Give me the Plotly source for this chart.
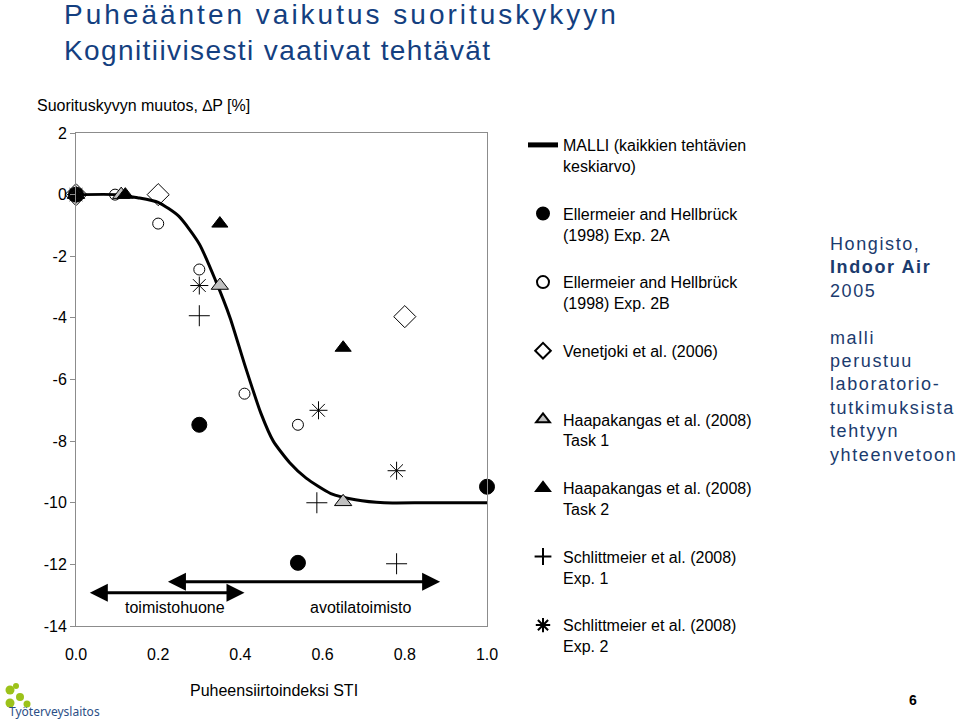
import plotly.graph_objects as go

# ---------------- data ----------------
model_x = [0.0, 0.10, 0.15, 0.20, 0.25, 0.30, 0.34, 0.375, 0.41, 0.45, 0.48, 0.52, 0.56, 0.62, 0.68, 0.75, 0.85, 1.0]
model_y = [0.0, 0.0, -0.1, -0.25, -0.7, -1.6, -2.8, -4.0, -5.5, -7.1, -8.0, -8.7, -9.2, -9.7, -9.9, -10.0, -10.0, -10.0]

ell2a_x = [0.0, 0.30, 0.54, 1.0]
ell2a_y = [0.0, -7.47, -11.95, -9.48]

ell2b_x = [0.0, 0.095, 0.20, 0.30, 0.41, 0.54]
ell2b_y = [0.0, 0.0, -0.94, -2.43, -6.46, -7.47]

ven_x = [0.0, 0.20, 0.80]
ven_y = [0.0, 0.0, -3.96]

haap1_x = [0.0, 0.11, 0.35, 0.65]
haap1_y = [0.0, 0.0, -2.95, -9.97]

haap2_x = [0.0, 0.12, 0.35, 0.65]
haap2_y = [0.0, 0.0, -0.94, -4.97]

sch1_x = [0.30, 0.586, 0.78]
sch1_y = [-3.93, -10.0, -11.98]

sch2_x = [0.0, 0.30, 0.59, 0.78]
sch2_y = [0.0, -2.95, -7.0, -8.96]

x_ticks = [0.0, 0.2, 0.4, 0.6, 0.8, 1.0]
y_ticks = [2, 0, -2, -4, -6, -8, -10, -12, -14]

names = [
    "MALLI (kaikkien tehtävien<br>keskiarvo)",
    "Ellermeier and Hellbrück<br>(1998) Exp. 2A",
    "Ellermeier and Hellbrück<br>(1998) Exp. 2B",
    "Venetjoki et al. (2006)<br> ",
    "Haapakangas et al. (2008)<br>Task 1",
    "Haapakangas et al. (2008)<br>Task 2",
    "Schlittmeier et al. (2008)<br>Exp. 1",
    "Schlittmeier et al. (2008)<br>Exp. 2",
]

FONT = "Liberation Sans, Arial, sans-serif"

fig = go.Figure()

fig.add_trace(go.Scatter(x=model_x, y=model_y, mode="lines", name=names[0],
                         line=dict(color="black", width=3, shape="spline", smoothing=0.6),
                         legendgroup="g0"))

series = [
    (ell2a_x, ell2a_y, names[1], dict(symbol="circle", size=15, color="black", line=dict(color="black", width=1))),
    (ell2b_x, ell2b_y, names[2], dict(symbol="circle-open", size=11, color="black", line=dict(color="black", width=1))),
    (ven_x, ven_y, names[3], dict(symbol="diamond-open", size=17, color="black", line=dict(color="black", width=1))),
    (haap1_x, haap1_y, names[4], dict(symbol="triangle-up", size=15, color="#c0c0c0", line=dict(color="black", width=1))),
    (haap2_x, haap2_y, names[5], dict(symbol="triangle-up", size=14, color="black", line=dict(color="black", width=1))),
    (sch1_x, sch1_y, names[6], dict(symbol="cross-thin-open", size=15, color="black", line=dict(color="black", width=1))),
    (sch2_x, sch2_y, names[7], dict(symbol="asterisk-open", size=15, color="black", line=dict(color="black", width=1))),
]
for i, (xs, ys, nm, mk) in enumerate(series):
    fig.add_trace(go.Scatter(x=xs, y=ys, mode="markers", name=nm, marker=mk,
                             legendgroup="g%d" % (i + 1), cliponaxis=False))

# arrows (office type ranges)
arrows = [
    (0.03, 0.41, -12.92),
    (0.22, 0.886, -12.56),
]
for x0, x1, yy in arrows:
    fig.add_annotation(x=x1, y=yy, ax=x0, ay=yy, xref="x", yref="y", axref="x", ayref="y",
                       text="", showarrow=True, arrowhead=2, arrowside="end+start",
                       arrowwidth=3, arrowsize=1.2, arrowcolor="black", standoff=0, startstandoff=0)

fig.add_annotation(x=0.241, y=-13.41, xref="x", yref="y", text="toimistohuone", showarrow=False,
                   font=dict(family=FONT, size=16, color="black"))
fig.add_annotation(x=0.691, y=-13.41, xref="x", yref="y", text="avotilatoimisto", showarrow=False,
                   font=dict(family=FONT, size=16, color="black"))

W, H = 960, 720
L, R, T, B = 76, 473, 133, 94
pw, ph = W - L - R, H - T - B


def px(xp):
    return (xp - L) / pw


def py(yp):
    return (H - B - yp) / ph


# titles
fig.add_annotation(x=px(62), y=py(32), xref="paper", yref="paper", xanchor="left", yanchor="middle",
                   text=('<span style="letter-spacing:3px">Puheäänten vaikutus suorituskykyyn</span><br>'
                         '<span style="letter-spacing:1.4px">Kognitiivisesti vaativat tehtävät</span>'),
                   showarrow=False, align="left",
                   font=dict(family=FONT, size=28, color="#143f80"))

fig.add_annotation(x=px(35), y=py(105), xref="paper", yref="paper", xanchor="left", yanchor="middle",
                   text="Suorituskyvyn muutos, ∆P [%]", showarrow=False,
                   font=dict(family=FONT, size=16, color="black"))

fig.add_annotation(x=px(274), y=py(690), xref="paper", yref="paper", xanchor="center", yanchor="middle",
                   text="Puheensiirtoindeksi STI", showarrow=False,
                   font=dict(family=FONT, size=16, color="black"))

side = ('<span style="letter-spacing:1.6px">Hongisto,<br><b>Indoor Air</b><br>2005<br> <br>malli<br>perustuu<br>'
        'laboratorio-<br>tutkimuksista<br>tehtyyn<br>yhteenvetoon</span>')
fig.add_annotation(x=px(828), y=py(232), xref="paper", yref="paper", xanchor="left", yanchor="top",
                   text=side, showarrow=False, align="left",
                   font=dict(family=FONT, size=18, color="#1b3b6e"))

fig.add_annotation(x=px(913), y=py(700), xref="paper", yref="paper", xanchor="center", yanchor="middle",
                   text="<b>6</b>", showarrow=False,
                   font=dict(family=FONT, size=14, color="black"))

# logo
fig.add_annotation(x=px(7), y=py(711), xref="paper", yref="paper", xanchor="left", yanchor="middle",
                   text="Työterveyslaitos", showarrow=False,
                   font=dict(family="Noto Sans, sans-serif", size=12, color="#2b4f86"))
for cx, cy, r in [(10, 690, 4.5), (20, 697, 4), (10, 703, 4.5), (27, 704, 3.5), (16, 686, 3)]:
    fig.add_shape(type="circle", xref="paper", yref="paper",
                  x0=px(cx - r), x1=px(cx + r), y0=py(cy + r), y1=py(cy - r),
                  fillcolor="#9cc21a", line=dict(width=0))

fig.update_xaxes(range=[0, 1], tickvals=x_ticks, tickformat=".1f", showgrid=False, zeroline=False,
                 showline=True, linecolor="#8c8c8c", linewidth=1, mirror=True, ticks="",
                 ticklabelstandoff=14,
                 tickfont=dict(family=FONT, size=16, color="black"))
fig.update_yaxes(range=[-14, 2], tickvals=y_ticks, ticktext=[str(v) for v in y_ticks],
                 showgrid=False, zeroline=False,
                 showline=True, linecolor="#8c8c8c", linewidth=1, mirror=True,
                 ticks="outside", ticklen=5, tickcolor="#8c8c8c",
                 tickfont=dict(family=FONT, size=16, color="black"))

fig.update_layout(
    width=W, height=H,
    margin=dict(l=L, r=R, t=T, b=B),
    paper_bgcolor="white", plot_bgcolor="white",
    showlegend=True,
    legend=dict(x=px(523), y=py(128), xanchor="left", yanchor="top",
                font=dict(family=FONT, size=16, color="black"),
                valign="top", tracegroupgap=24, bgcolor="rgba(0,0,0,0)",
                traceorder="grouped", itemsizing="constant", maxheight=700),
)

fig.write_html("out.html")
